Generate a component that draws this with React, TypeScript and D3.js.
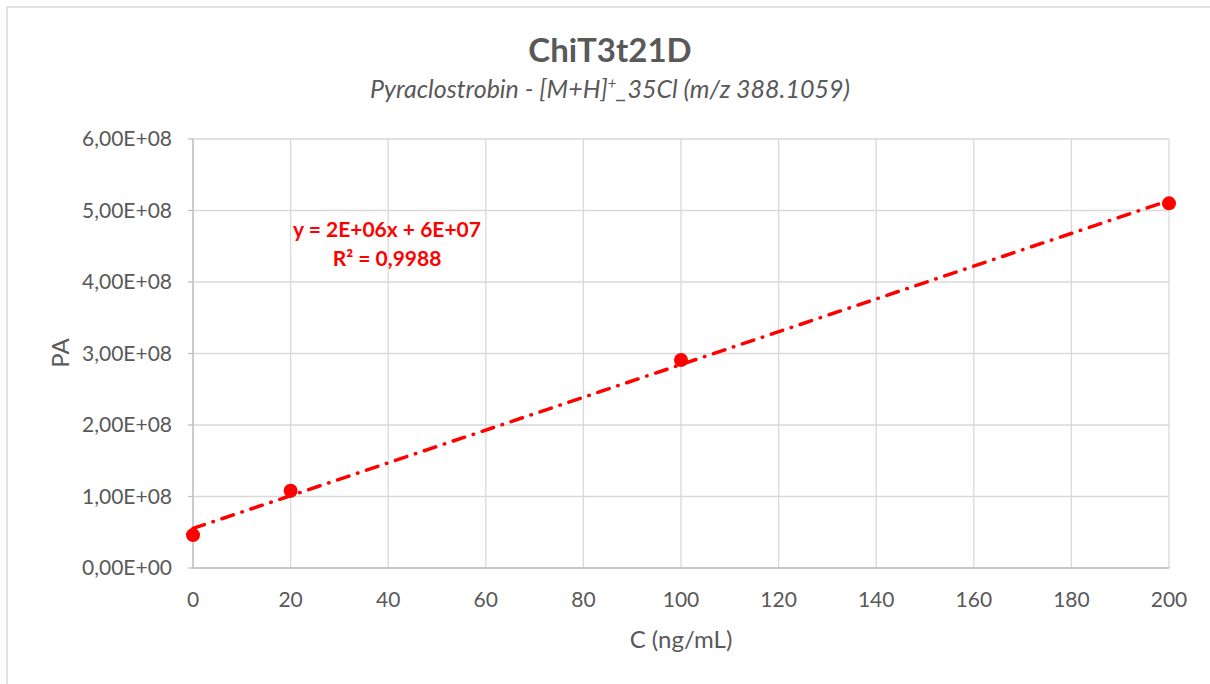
import React from "react";
import * as d3 from "d3";

const concentrations = [0, 20, 100, 200];
const peakAreas = [4.6e7, 1.08e8, 2.91e8, 5.1e8];
const xTicks = [0, 20, 40, 60, 80, 100, 120, 140, 160, 180, 200];
const yTicks = [0, 1e8, 2e8, 3e8, 4e8, 5e8, 6e8];
const titleText = "ChiT3t21D";
const equationText = "y = 2E+06x + 6E+07";
const r2Text = "R² = 0,9988";

const W = 1210;
const H = 684;
const left = 193, right = 1169, top = 139, bottom = 568;
const FONT = "Lato, 'Open Sans', sans-serif";
const GREY = "#595959";

function fmtY(v: number) {
  if (v === 0) return "0,00E+00";
  const e = Math.floor(Math.log10(v));
  const m = v / Math.pow(10, e);
  return m.toFixed(2).replace(".", ",") + "E+" + String(e).padStart(2, "0");
}

export default function App() {
  const x = d3.scaleLinear().domain([0, 200]).range([left, right]);
  const y = d3.scaleLinear().domain([0, 6e8]).range([bottom, top]);

  const n = concentrations.length;
  const mx = d3.mean(concentrations)!;
  const my = d3.mean(peakAreas)!;
  let sxy = 0, sxx = 0;
  for (let i = 0; i < n; i++) {
    sxy += (concentrations[i] - mx) * (peakAreas[i] - my);
    sxx += (concentrations[i] - mx) ** 2;
  }
  const slope = sxy / sxx;
  const intercept = my - slope * mx;
  const fitLine = d3.line<number>().x((d) => x(d)).y((d) => y(slope * d + intercept));

  return (
    <svg width={W} height={H} style={{ position: "absolute", left: 0, top: 0, background: "#fff" }}>
      <rect x={7} y={7} width={W + 20} height={H + 20} fill="#fff" stroke="#d9d9d9" strokeWidth={1.5} />
      <text x={610} y={62} textAnchor="middle" fontFamily={FONT} fontWeight="bold" fontSize={33} fill={GREY}>
        {titleText}
      </text>
      <text x={610} y={98} textAnchor="middle" fontFamily={FONT} fontStyle="italic" fontSize={25} fill={GREY}>
        Pyraclostrobin - [M+H]<tspan baselineShift="super" fontSize={15}>+</tspan>_35Cl (m/z 388.1059)
      </text>
      {xTicks.map((t) => (
        <line key={"gx" + t} x1={x(t)} x2={x(t)} y1={top} y2={bottom} stroke="#d9d9d9" strokeWidth={1.3} />
      ))}
      {yTicks.map((t) => (
        <line key={"gy" + t} x1={left} x2={right} y1={y(t)} y2={y(t)} stroke="#d9d9d9" strokeWidth={1.3} />
      ))}
      <line x1={left} x2={left} y1={top} y2={bottom} stroke="#bfbfbf" strokeWidth={1.3} />
      <line x1={left} x2={right} y1={bottom} y2={bottom} stroke="#bfbfbf" strokeWidth={1.3} />
      {yTicks.map((t) => (
        <line key={"ty" + t} x1={left - 5} x2={left} y1={y(t)} y2={y(t)} stroke="#bfbfbf" strokeWidth={1.3} />
      ))}
      {yTicks.map((t) => (
        <text key={"ly" + t} x={left - 21} y={y(t) + 7} textAnchor="end" fontFamily={FONT} fontSize={21} fill={GREY}>
          {fmtY(t)}
        </text>
      ))}
      {xTicks.map((t) => (
        <text key={"lx" + t} x={x(t)} y={bottom + 39} textAnchor="middle" fontFamily={FONT} fontSize={21} fill={GREY}>
          {t}
        </text>
      ))}
      <text x={681} y={648} textAnchor="middle" fontFamily={FONT} fontSize={24} fill={GREY}>
        C (ng/mL)
      </text>
      <text transform={`translate(69,353) rotate(-90)`} textAnchor="middle" fontFamily={FONT} fontSize={24} fill={GREY}>
        PA
      </text>
      <path
        d={fitLine([0, 200]) || ""}
        fill="none"
        stroke="#ff0000"
        strokeWidth={3.5}
        strokeLinecap="round"
        strokeDasharray="12 9 0.5 9"
      />
      {concentrations.map((c, i) => (
        <circle key={"p" + i} cx={x(c)} cy={y(peakAreas[i])} r={7} fill="#ff0000" />
      ))}
      <text x={387} y={237} textAnchor="middle" fontFamily={FONT} fontWeight="bold" fontSize={21} fill="#ff0000">
        {equationText}
      </text>
      <text x={387} y={266} textAnchor="middle" fontFamily={FONT} fontWeight="bold" fontSize={21} fill="#ff0000">
        {r2Text}
      </text>
    </svg>
  );
}
